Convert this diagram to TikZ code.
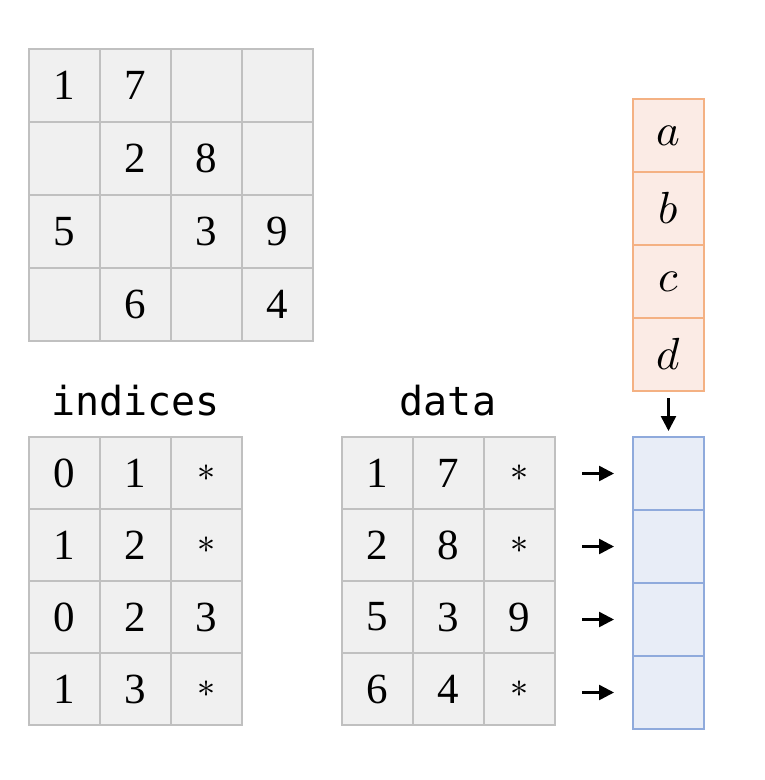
\documentclass[tikz,border=0pt]{standalone}
\usepackage{fontspec}
\usepackage{unicode-math}
\setmainfont{Liberation Serif}
\setmathfont{Latin Modern Math}
\newfontfamily\monofont{DejaVu Sans Mono}
\usetikzlibrary{arrows.meta}
\definecolor{cellfill}{RGB}{240,240,240}
\definecolor{celldraw}{RGB}{192,192,192}
\definecolor{orfill}{RGB}{251,235,229}
\definecolor{ordraw}{RGB}{244,177,131}
\definecolor{blfill}{RGB}{232,237,247}
\definecolor{bldraw}{RGB}{143,170,220}
\tikzset{
  cell/.style={draw=celldraw, fill=cellfill, line width=2pt, minimum width=71pt, minimum height=#1, inner sep=0pt, font=\fontsize{43}{50}\selectfont},
  cell/.default=73pt,
  orcell/.style={draw=ordraw, fill=orfill, line width=2pt, minimum width=71pt, minimum height=73pt, inner sep=0pt, font=\fontsize{45}{50}\selectfont},
  blcell/.style={draw=bldraw, fill=blfill, line width=2pt, minimum width=71pt, minimum height=73pt, inner sep=0pt},
  lbl/.style={font=\monofont\fontsize{40}{46}\selectfont, anchor=base, inner sep=0pt},
  arr/.style={line width=2.5pt, -{Triangle[length=15pt,width=15pt]}}
}
\newcommand{\myast}{{\fontsize{36}{40}\selectfont$*$}}
\begin{document}
\begin{tikzpicture}[x=1pt,y=-1pt]
\useasboundingbox (0,0) rectangle (764,780);
% sparse matrix
\foreach \row/\vals in {1/{1,7,{},{}},2/{{},2,8,{}},3/{5,{},3,9},4/{{},6,{},4}}{
  \foreach \v [count=\c] in \vals {
    \node[cell] (m-\row-\c) at ({29+71*(\c-0.5)},{49+73*(\row-0.5)}) {\v};
  }
}
% indices
\node[lbl] (lind) at (135.5,415) {indices};
\foreach \row/\vals in {1/{0,1,\myast},2/{1,2,\myast},3/{0,2,3},4/{1,3,\myast}}{
  \foreach \v [count=\c] in \vals {
    \node[cell=72pt] (idx-\row-\c) at ({29+71*(\c-0.5)},{437+72*(\row-0.5)}) {\v};
  }
}
% data
\node[lbl] (ldat) at (448,415) {data};
\foreach \row/\vals in {1/{1,7,\myast},2/{2,8,\myast},3/{5,3,9},4/{6,4,\myast}}{
  \foreach \v [count=\c] in \vals {
    \node[cell=72pt] (dat-\row-\c) at ({342+71*(\c-0.5)},{437+72*(\row-0.5)}) {\v};
  }
}
% vector x
\foreach \v [count=\r] in {a,b,c,d}{
  \node[orcell] (v-\r) at (668.5,{99+73*(\r-0.5)}) {$\v$};
}
% vector y
\foreach \r in {1,...,4}{
  \node[blcell] (y-\r) at (668.5,{437+73*(\r-0.5)}) {};
}
% arrows
\draw[arr] ([yshift=-6pt]v-4.south) -- ([yshift=5pt]y-1.north);
\foreach \r in {1,...,4}{
  \draw[arr] ([xshift=26pt]dat-\r-3.east |- y-\r.west) -- ([xshift=-18pt]y-\r.west);
}
\end{tikzpicture}
\end{document}
